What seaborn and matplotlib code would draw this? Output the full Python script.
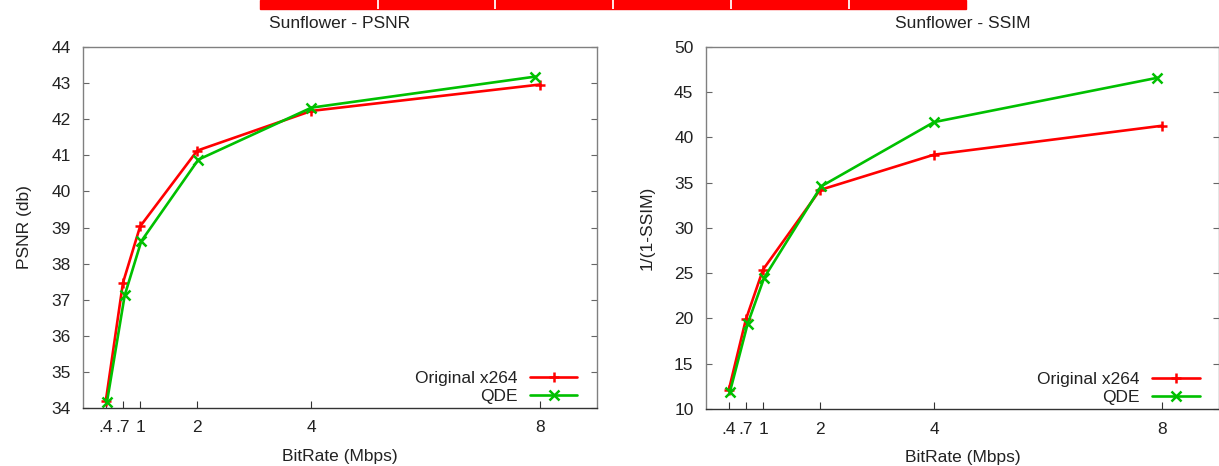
import matplotlib
matplotlib.use("Agg")
import matplotlib.pyplot as plt
import seaborn as sns
import pandas as pd
from matplotlib.patches import Rectangle

# ---- data ----
bitrate_orig = [0.4, 0.7, 1.0, 2.0, 4.0, 8.0]
bitrate_qde = [0.42, 0.73, 1.02, 2.02, 4.0, 7.92]
psnr_orig = [34.2, 37.47, 39.03, 41.13, 42.23, 42.96]
psnr_qde = [34.17, 37.12, 38.62, 40.88, 42.32, 43.18]
ssim_orig = [12.1, 19.9, 25.4, 34.2, 38.1, 41.3]
ssim_qde = [11.9, 19.4, 24.5, 34.6, 41.7, 46.6]
series_names = ["Original x264", "QDE"]
xticks = [0.4, 0.7, 1, 2, 4, 8]
xticklabels = [".4", ".7", "1", "2", "4", "8"]
titles = ["Sunflower - PSNR", "Sunflower - SSIM"]
ylabels = ["PSNR (db)", "1/(1-SSIM)"]
xlabel = "BitRate (Mbps)"

sns.set_theme(style="white")
plt.rcParams["font.family"] = ["Liberation Sans", "DejaVu Sans"]
FS = 12.5
plt.rcParams["font.size"] = FS

fig = plt.figure(figsize=(12.19, 4.66), dpi=100)
W, H = 1219, 466
ax1 = fig.add_axes([83 / W, 1 - 408 / H, 514 / W, 361 / H])
ax2 = fig.add_axes([706 / W, 1 - 409 / H, 513 / W, 362 / H])

# decorative red bar at top
bar_edges = [260, 377, 494, 612, 730, 848, 966]
fig.patches.append(Rectangle((260 / W, 1 - 9 / H), 706 / W, 9 / H,
                             transform=fig.transFigure, color="#ff0000",
                             zorder=0))
for e in bar_edges[1:-1]:
    fig.patches.append(Rectangle((e / W, 1 - 9 / H), 1.5 / W, 9 / H,
                                 transform=fig.transFigure, color="#ffe0e0",
                                 zorder=1, linewidth=0))

colors = ["#ff0000", "#00c000"]
markers = ["+", "x"]

panels = [
    (ax1, psnr_orig, psnr_qde, (34, 44), range(34, 45)),
    (ax2, ssim_orig, ssim_qde, (10, 50), range(10, 51, 5)),
]
for i, (ax, yo, yq, ylim, yt) in enumerate(panels):
    df = pd.concat([
        pd.DataFrame({"x": bitrate_orig, "y": yo, "s": series_names[0]}),
        pd.DataFrame({"x": bitrate_qde, "y": yq, "s": series_names[1]}),
    ])
    for j, name in enumerate(series_names):
        sub = df[df["s"] == name]
        sns.lineplot(data=sub, x="x", y="y", ax=ax, color=colors[j],
                     marker=markers[j], markersize=6.5, markeredgewidth=1.8,
                     markeredgecolor=colors[j], linewidth=1.9, label=name,
                     sort=False)
    ax.set_xlim(0, 9)
    ax.set_ylim(*ylim)
    ax.set_xticks(xticks)
    ax.set_xticklabels(xticklabels)
    ax.set_yticks(list(yt))
    ax.tick_params(axis="y", direction="in", length=4, width=0.8,
                   color="#666666", left=True, right=True, labelright=False,
                   labelsize=FS, labelcolor="#222222", pad=9)
    ax.tick_params(axis="x", direction="in", length=5, width=0.8,
                   color="#333333", bottom=True, top=False,
                   labelsize=FS, labelcolor="#222222", pad=9)
    for sp in ax.spines.values():
        sp.set_color("#808080")
        sp.set_linewidth(1.0)
    ax.spines["bottom"].set_color("#333333")
    ax.set_xlabel(xlabel, fontsize=FS, color="#222222", labelpad=10)
    ax.set_ylabel(ylabels[i], fontsize=FS, color="#222222", labelpad=14)
    ax.set_title(titles[i], fontsize=FS, color="#222222", pad=14)
    leg = ax.legend(loc="lower right", frameon=False, markerfirst=False,
                    fontsize=FS, handlelength=2.75, borderaxespad=0,
                    borderpad=0, labelspacing=0.15, handletextpad=0.7,
                    bbox_to_anchor=(0.962, 0.012))
    for t in leg.get_texts():
        t.set_color("#222222")

fig.savefig("out.png", dpi=100)
